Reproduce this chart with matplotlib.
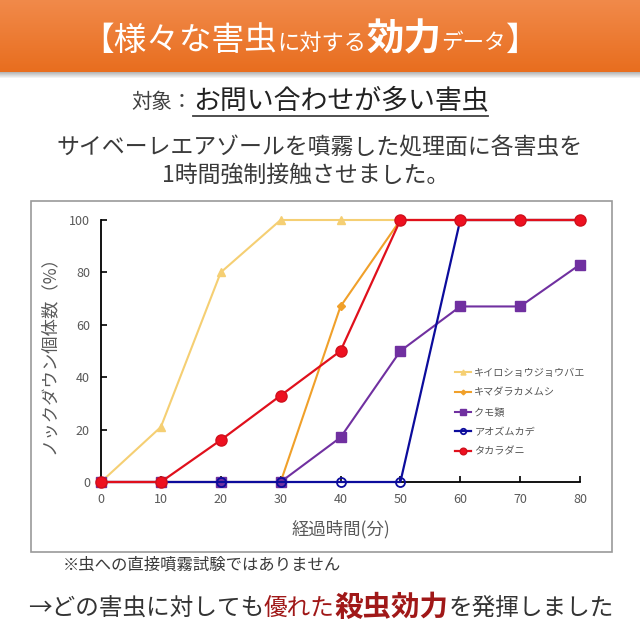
import numpy as np
import matplotlib
matplotlib.use('Agg')
import matplotlib.pyplot as plt
from matplotlib.patches import Rectangle

plt.rcParams['font.family'] = ['Noto Sans CJK JP', 'DejaVu Sans']

# data
minutes = [0, 10, 20, 30, 40, 50, 60, 70, 80]
pests = ['キイロショウジョウバエ', 'キマダラカメムシ', 'クモ類', 'アオズムカデ', 'タカラダニ']
fly = [0, 21, 80, 100, 100, 100, 100, 100, 100]
stinkbug = [0, 0, 0, 0, 67, 100, 100, 100, 100]
spider = [0, 0, 0, 0, 17, 50, 67, 67, 83]
centipede = [0, 0, 0, 0, 0, 0, 100, 100, 100]
mite = [0, 0, 16, 33, 50, 100, 100, 100, 100]

W, H = 640, 626
fig = plt.figure(figsize=(W / 100, H / 100), dpi=100)

# background layer in pixel coords
bg = fig.add_axes([0, 0, 1, 1])
bg.set_xlim(0, W)
bg.set_ylim(H, 0)
bg.axis('off')

grad = np.linspace(0, 1, 64)[:, None]
top = np.array([0.945, 0.54, 0.29])
bot = np.array([0.91, 0.43, 0.12])
img = top[None, None, :] * (1 - grad[:, :, None]) + bot[None, None, :] * grad[:, :, None]
bg.imshow(img, extent=(0, W, 72, 0), aspect='auto', zorder=1)
for i in range(6):
    bg.add_patch(Rectangle((0, 72 + i), W, 1, color='#707070', alpha=0.5 * (1 - i / 6), lw=0, zorder=1))

bg.add_patch(Rectangle((31, 201), 581, 351, facecolor='none', edgecolor='#9a9a9a', lw=1.2, zorder=2))


def text_line(pieces, cx, y_px):
    # pieces: (string, size, color, weight)
    fig.canvas.draw()
    r = fig.canvas.get_renderer()
    objs = []
    for s, size, color, weight in pieces:
        t = fig.text(0, 1 - y_px / H, s, fontsize=size, color=color, fontweight=weight,
                     ha='left', va='baseline')
        objs.append(t)
    widths = [t.get_window_extent(renderer=r).width for t in objs]
    x = cx - sum(widths) / 2
    for t, w in zip(objs, widths):
        t.set_x(x / W)
        x += w
    return objs, cx - sum(widths) / 2, cx + sum(widths) / 2


text_line([('【様々な害虫', 23.5, 'white', 'normal'),
           ('に対する', 16, 'white', 'normal'),
           ('効力', 27, 'white', 'bold'),
           ('データ', 15.5, 'white', 'normal'),
           ('】', 23.5, 'white', 'normal')], 310, 50)

objs, x0, x1 = text_line([('対象：', 14.7, '#404040', 'normal'),
                          ('お問い合わせが多い害虫', 19.4, '#222222', 'normal')], 310, 108)
fig.canvas.draw()
wl = objs[0].get_window_extent().width
bg.plot([x0 + wl, x1], [116, 116], color='#404040', lw=1.3, zorder=3)

fig.text(0.5, 1 - 148 / H, 'サイベーレエアゾールを噴霧した処理面に各害虫を', fontsize=16.5,
         color='#3a3a3a', ha='center', va='center')
fig.text(0.477, 1 - 175 / H, '1時間強制接触させました。', fontsize=16.5,
         color='#3a3a3a', ha='center', va='center')

fig.text(63 / W, 1 - 565 / H, '※虫への直接噴霧試験ではありません', fontsize=11.8,
         color='#3a3a3a', ha='left', va='center')

text_line([('→どの害虫に対しても', 17, '#333333', 'normal'),
           ('優れた', 17, '#a01818', 'normal'),
           ('殺虫効力', 20.5, '#a01818', 'bold'),
           ('を発揮しました', 17, '#333333', 'normal')], 321, 616)

# chart
ax = fig.add_axes([101 / W, 1 - 482 / H, 479 / W, 262 / H])
ax.set_facecolor('none')
ax.plot(minutes, fly, color='#f5cf73', lw=1.5, marker='^', ms=6, mfc='#f5cf73', mec='#f5cf73',
        label=pests[0], clip_on=False, zorder=3)
ax.plot(minutes, stinkbug, color='#f0a02a', lw=1.5, marker='D', ms=4, mfc='#f0a02a', mec='#f0a02a',
        label=pests[1], clip_on=False, zorder=4)
ax.plot(minutes, spider, color='#7030a0', lw=1.5, marker='s', ms=7, mfc='#7030a0', mec='#7030a0',
        label=pests[2], clip_on=False, zorder=5)
ax.plot(minutes, centipede, color='#0c0c9c', lw=1.6, marker='o', ms=6.5, mfc='none', mec='#0c0c9c',
        mew=1.3, label=pests[3], clip_on=False, zorder=6)
ax.plot(minutes, mite, color='#e0101c', lw=1.6, marker='o', ms=8, mfc='#ee1020', mec='#d0101c',
        label=pests[4], clip_on=False, zorder=7)

ax.set_xlim(0, 80)
ax.set_ylim(0, 100)
ax.set_xticks(minutes)
ax.set_yticks([0, 20, 40, 60, 80, 100])
for s in ['top', 'right']:
    ax.spines[s].set_visible(False)
for s in ['left', 'bottom']:
    ax.spines[s].set_color('black')
    ax.spines[s].set_linewidth(1.3)
ax.tick_params(direction='in', length=4, width=1.2, labelsize=9, labelcolor='#595959', pad=8)
ax.set_xlabel('経過時間(分)', fontsize=12.5, color='#595959', labelpad=10)
ax.set_ylabel('ノックダウン個体数（%）', fontsize=12.5, color='#595959', labelpad=8)

ax.legend(loc='upper left', bbox_to_anchor=(0.72, 0.47), frameon=False, fontsize=7.3,
          labelcolor='#555555', markerscale=0.6, handlelength=1.6, handletextpad=0.3,
          labelspacing=0.95)

fig.savefig('out.png', dpi=100)
